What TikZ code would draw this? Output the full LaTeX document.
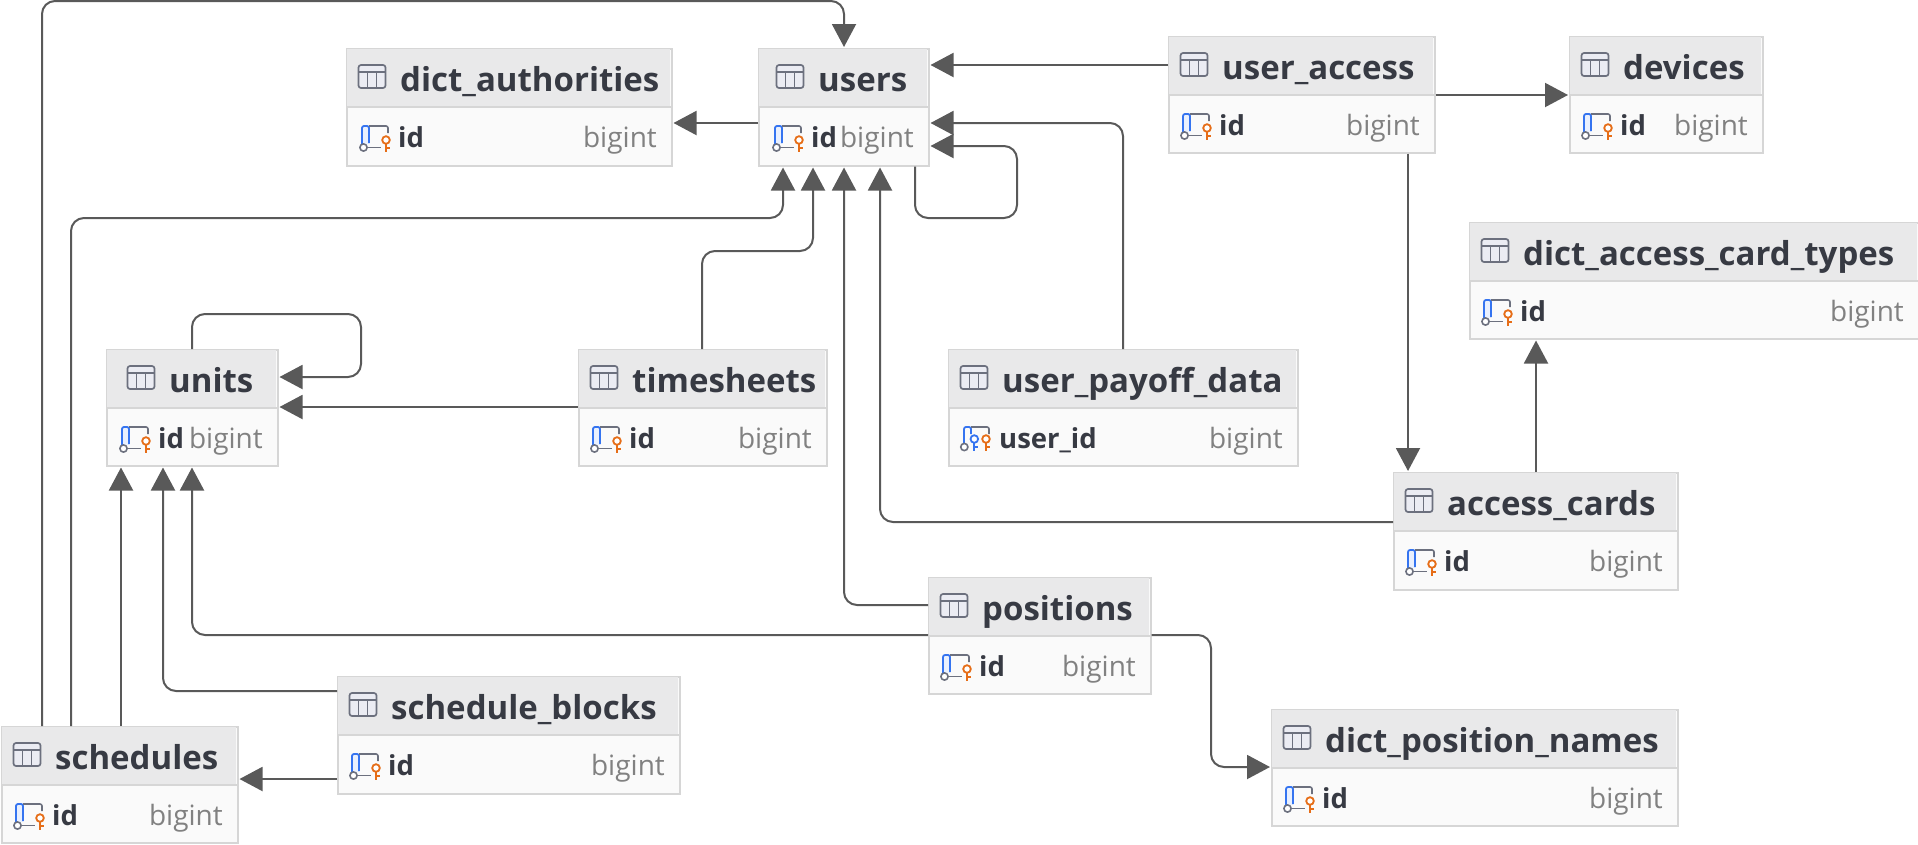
\documentclass[tikz,border=0pt]{standalone}
\usepackage{fontspec}
\setmainfont{Open Sans}
\usetikzlibrary{arrows.meta,calc}
\definecolor{conncol}{HTML}{595959}
\definecolor{boxline}{HTML}{D6D6D6}
\definecolor{headfill}{HTML}{E9E9EA}
\definecolor{rowfill}{HTML}{FAFAFA}
\definecolor{titlecol}{HTML}{373A43}
\definecolor{typecol}{HTML}{818181}
\definecolor{iconcol}{HTML}{6C707E}
\definecolor{iconfill}{HTML}{EBECF3}
\definecolor{keyblue}{HTML}{3574F0}
\definecolor{keyfill}{HTML}{E9F0FE}
\definecolor{keyor}{HTML}{E66D17}
\tikzset{
  dbbox/.style={draw=boxline,line width=1.5pt,fill=rowfill,inner sep=0pt,anchor=north west},
  dbtitle/.style={font=\fontsize{33}{38}\selectfont\bfseries,text=titlecol,anchor=base west,inner sep=0pt},
  dbcol/.style={font=\fontsize{27.5}{30}\selectfont\bfseries,text=titlecol,anchor=base west,inner sep=0pt},
  dbtype/.style={font=\fontsize{28}{30}\selectfont,text=typecol,anchor=base east,inner sep=0pt},
  conn/.style={draw=conncol,line width=2pt,rounded corners=13pt,shorten >=1pt,
     -{Triangle[length=23pt,width=24pt]}},
}
\newcommand{\tblicon}{%
  \draw[iconcol,fill=iconfill,line width=1.7pt,rounded corners=2.5pt] (0,-12) rectangle (27,11);
  \draw[iconcol,line width=1.7pt] (0,-5) -- (27,-5) (9,-5) -- (9,11) (18,-5) -- (18,11);
}
\newcommand{\pkicon}{%
  \fill[keyfill] (1,-11) rectangle (8,7);
  \draw[keyblue,line width=1.8pt,rounded corners=2pt] (1,7) -- (1,-11) -- (8,-11) -- (8,6);
  \draw[iconcol,line width=1.6pt,rounded corners=2pt] (8,-11) -- (27,-11) -- (27,-4);
  \draw[iconcol,line width=1.6pt] (7,10.5) -- (20,10.5);
  \draw[iconcol,line width=1.6pt,fill=white] (2.5,10.5) circle (3.6);
  \draw[keyor,line width=1.8pt] (25,7) -- (25,15) (25,11) -- (29,11);
  \draw[keyor,line width=1.8pt,fill=white] (25,3) circle (3.8);
}
\newcommand{\pfkicon}{%
  \draw[keyblue,line width=1.8pt,rounded corners=2pt] (2,5) -- (2,-11) -- (9,-11) -- (9,-4);
  \draw[iconcol,line width=1.6pt,rounded corners=2pt] (9,-11) -- (27,-11) -- (27,-4);
  \draw[iconcol,line width=1.6pt,fill=white] (2.3,9) circle (3.6);
  \draw[keyblue,line width=1.8pt] (12.3,5) -- (12.3,13) (12.3,9) -- (16,9);
  \draw[keyblue,line width=1.8pt,fill=white] (12.3,1) circle (3.8);
  \draw[keyor,line width=1.8pt] (24,5) -- (24,13) (24,9) -- (28,9);
  \draw[keyor,line width=1.8pt,fill=white] (24,1) circle (3.8);
}
% name x1 y1 x2 y2 title col titlepad rowtextpad
\newcommand{\dbtable}[9]{%
  \node[dbbox,minimum width={(#4-#2-1)*1pt},minimum height={(#5-#3-1)*1pt}] (#1) at (#2,#3) {};
  \fill[headfill] ({#2+1},{#3+1}) rectangle ({#4-2},{#3+58});
  \draw[boxline,line width=1.8pt] (#2,{#3+59}) -- ({#4-1},{#3+59});
  \begin{scope}[shift={({#2+#8-41.5},{#3+29})}]\tblicon\end{scope}
  \node[dbtitle] (#1-title) at ({#2+#8},{#3+43}) {#6};
  \node[dbtype] (#1-type) at ({#4-15},{#3+99}) {bigint};
  \dbrow{#1}{#2}{#3}{#7}{#9}%
}
\newcommand{\dbrow}[5]{%
  \begin{scope}[shift={({#2+#5-38},{#3+89})}]\pkicon\end{scope}
  \node[dbcol] (#1-col) at ({#2+#5-1},{#3+99}) {#4};
}
\begin{document}
\begin{tikzpicture}[x=1pt,y=-1pt]
\useasboundingbox (0,0) rectangle (1918,844);
\clip (0,0) rectangle (1918,844);
\dbtable{authorities}{346}{48}{672}{166}{dict\_authorities}{id}{54}{53}
\dbtable{users}{758}{48}{929}{166}{users}{id}{60}{54}
\dbtable{useraccess}{1168}{36}{1435}{153}{user\_access}{id}{54}{52}
\dbtable{devices}{1569}{36}{1763}{153}{devices}{id}{54}{52}
\dbtable{cardtypes}{1469}{222}{1919}{339}{dict\_access\_card\_types}{id}{54}{52}
\dbtable{units}{106}{349}{278}{466}{units}{id}{63}{53}
\dbtable{timesheets}{578}{349}{827}{466}{timesheets}{id}{54}{52}
% user_payoff_data carries a composite key icon
\node[dbbox,minimum width=349pt,minimum height=116pt] (payoff) at (948,349) {};
\fill[headfill] (949,350) rectangle (1296,407);
\draw[boxline,line width=1.8pt] (948,408) -- (1297,408);
\begin{scope}[shift={(960.5,378)}]\tblicon\end{scope}
\node[dbtitle] (payoff-title) at (1002,392) {user\_payoff\_data};
\node[dbtype] (payoff-type) at (1283,448) {bigint};
\begin{scope}[shift={(962,438)}]\pfkicon\end{scope}
\node[dbcol] (payoff-col) at (999,448) {user\_id};
\dbtable{accesscards}{1393}{472}{1678}{590}{access\_cards}{id}{54}{52}
\dbtable{positions}{928}{577}{1151}{694}{positions}{id}{54}{52}
\dbtable{positionnames}{1271}{709}{1678}{826}{dict\_position\_names}{id}{54}{52}
\dbtable{blocks}{337}{676}{680}{794}{schedule\_blocks}{id}{54}{52}
\dbtable{schedules}{1}{726}{238}{843}{schedules}{id}{54}{52}
% connectors
\draw[conn] (42,0 |- schedules.north) -- (42,1) -- (844,1) -- (844,0 |- users.north);
\draw[conn] (71,0 |- schedules.north) -- (71,218) -- (783,218) -- (783,0 |- users.south);
\draw[conn] (121,0 |- schedules.north) -- (121,0 |- units.south);
\draw[conn] (blocks.west |- 0,691) -- (163,691) -- (163,0 |- units.south);
\draw[conn] (blocks.west |- 0,779) -- (schedules.east |- 0,779);
\draw[conn] (positions.west |- 0,635) -- (192,635) -- (192,0 |- units.south);
\draw[conn] (positions.east |- 0,635) -- (1211,635) -- (1211,767) -- (positionnames.west |- 0,767);
\draw[conn] (positions.west |- 0,605) -- (844,605) -- (844,0 |- users.south);
\draw[conn] (702,0 |- timesheets.north) -- (702,251) -- (813,251) -- (813,0 |- users.south);
\draw[conn] (timesheets.west |- 0,407) -- (units.east |- 0,407);
\draw[conn] (192,0 |- units.north) -- (192,314) -- (361,314) -- (361,377) -- (units.east |- 0,377);
\draw[conn] (915,0 |- users.south) -- (915,218) -- (1017,218) -- (1017,146) -- (users.east |- 0,146);
\draw[conn] (1123,0 |- payoff.north) -- (1123,123) -- (users.east |- 0,123);
\draw[conn] (useraccess.west |- 0,65) -- (users.east |- 0,65);
\draw[conn] (users.west |- 0,123) -- (authorities.east |- 0,123);
\draw[conn] (useraccess.east |- 0,95) -- (devices.west |- 0,95);
\draw[conn] (1408,0 |- useraccess.south) -- (1408,0 |- accesscards.north);
\draw[conn] (1536,0 |- accesscards.north) -- (1536,0 |- cardtypes.south);
\draw[conn] (accesscards.west |- 0,522) -- (880,522) -- (880,0 |- users.south);
\end{tikzpicture}
\end{document}
